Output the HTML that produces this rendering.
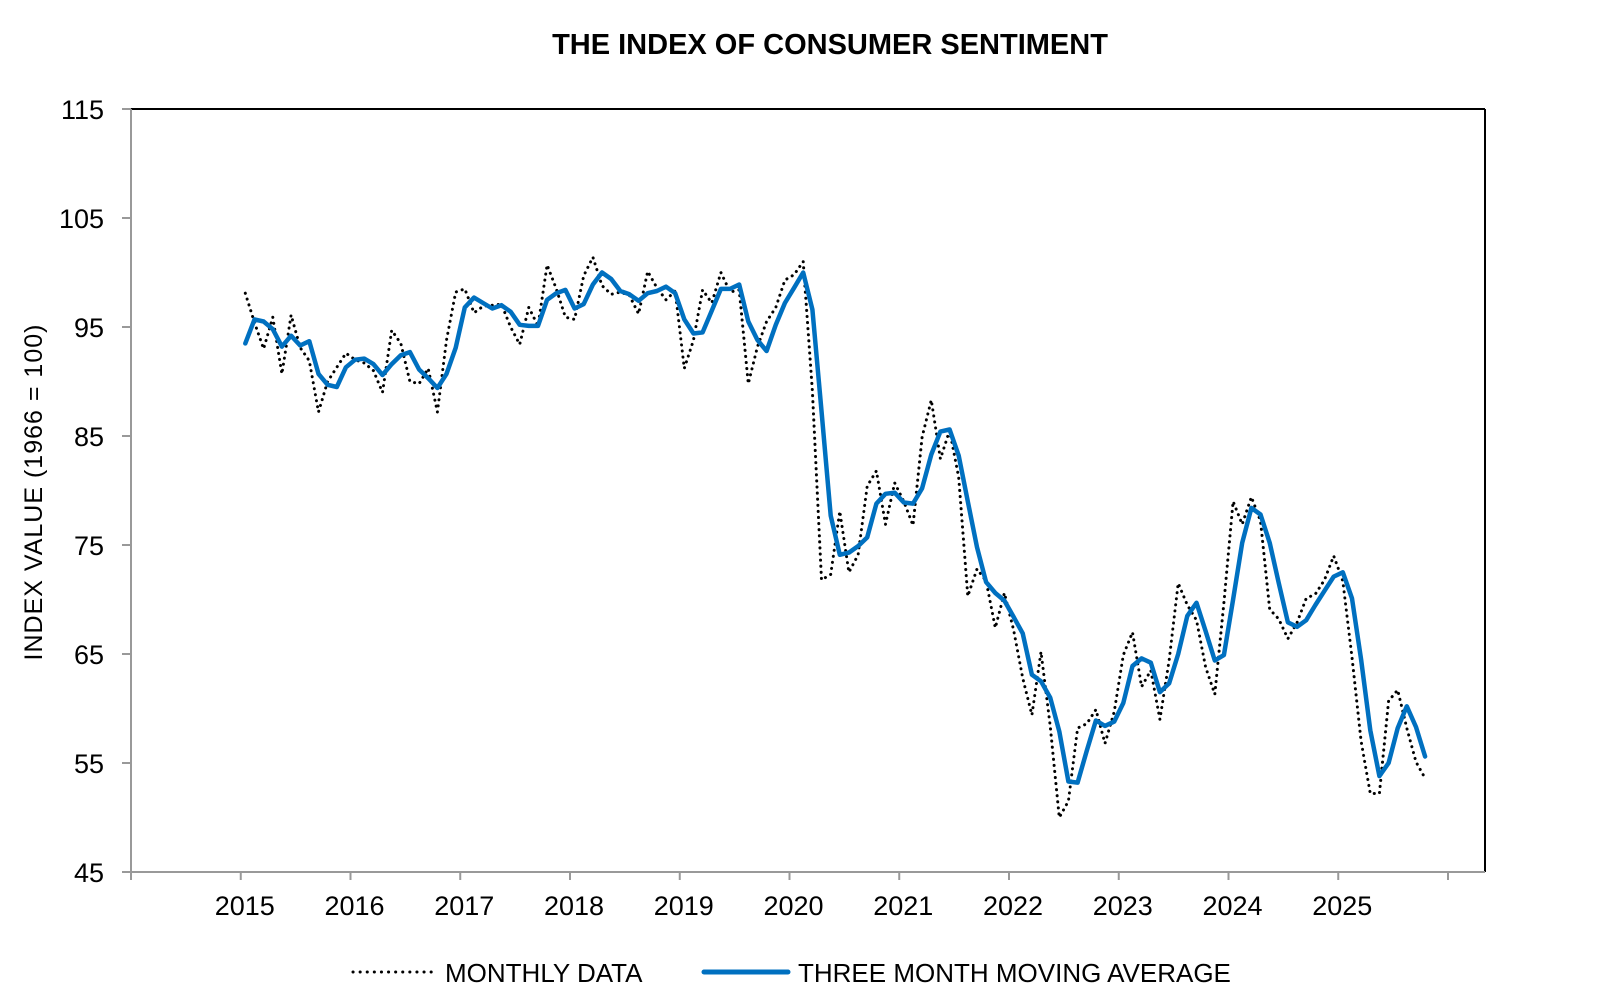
<!DOCTYPE html>
<html><head><meta charset="utf-8"><style>
html,body{margin:0;padding:0;background:#fff;}
svg{display:block;font-family:"Liberation Sans",Arial,sans-serif;}
</style></head><body>
<svg id="chart" width="1600" height="1004" viewBox="0 0 1600 1004" xmlns="http://www.w3.org/2000/svg">
<rect width="1600" height="1004" fill="#fff"/>
<text x="830" y="54" text-anchor="middle" font-size="29" font-weight="bold">THE INDEX OF CONSUMER SENTIMENT</text>
<text transform="translate(42,492) rotate(-90)" text-anchor="middle" font-size="25" letter-spacing="1">INDEX VALUE (1966 = 100)</text>
<g id="axes"></g>
<g id="series"></g>
<g>
<line x1="353" y1="972" x2="437" y2="972" stroke="#000" stroke-width="3" stroke-dasharray="0.1 7" stroke-linecap="round"/>
<text x="445" y="982" font-size="26">MONTHLY DATA</text>
<line x1="704" y1="972" x2="788" y2="972" stroke="#0070c0" stroke-width="5" stroke-linecap="round"/>
<text x="798" y="982" font-size="26">THREE MONTH MOVING AVERAGE</text>
</g>
</svg>
<script>
const years = ["2015","2016","2017","2018","2019","2020","2021","2022","2023","2024","2025"];
const yTicks = [45,55,65,75,85,95,105,115];
const monthly = [98.1,95.4,93.0,95.9,90.7,96.1,93.1,91.9,87.2,90.0,91.3,92.6,
92.0,91.7,91.0,89.0,94.7,93.5,90.0,89.8,91.2,87.2,93.8,98.2,
98.5,96.3,96.9,97.0,97.1,95.0,93.4,96.8,95.1,100.7,98.5,95.9,
95.7,99.7,101.4,98.8,98.0,98.2,97.9,96.2,100.1,98.6,97.5,98.3,
91.2,93.8,98.4,97.2,100.0,98.2,98.4,89.8,93.2,95.5,96.8,99.3,
99.8,101.0,89.1,71.8,72.3,78.1,72.5,74.1,80.4,81.8,76.9,80.7,
79.0,76.8,84.9,88.3,82.9,85.5,81.2,70.3,72.8,71.7,67.4,70.6,
67.2,62.8,59.4,65.2,58.4,50.0,51.5,58.2,58.6,59.9,56.8,59.7,
64.9,67.0,62.0,63.5,59.0,64.4,71.5,69.5,68.1,63.8,61.3,69.7,
79.0,76.9,79.4,77.2,69.1,68.2,66.4,67.9,70.1,70.5,71.8,74.0,
71.7,64.7,57.0,52.2,52.2,60.7,61.7,58.2,55.1,53.6];
const movingAvg = [93.5,95.7,95.5,94.8,93.2,94.2,93.3,93.7,90.7,89.7,89.5,91.3,
92.0,92.1,91.6,90.6,91.6,92.4,92.7,91.1,90.3,89.4,90.7,93.1,
96.8,97.7,97.2,96.7,97.0,96.4,95.2,95.1,95.1,97.5,98.1,98.4,
96.7,97.1,98.9,100.0,99.4,98.3,98.0,97.4,98.1,98.3,98.7,98.1,
95.7,94.4,94.5,96.5,98.5,98.5,98.9,95.5,93.8,92.8,95.2,97.2,
98.6,100.0,96.6,87.3,77.7,74.1,74.3,74.9,75.7,78.8,79.7,79.8,
78.9,78.8,80.2,83.3,85.4,85.6,83.2,79.0,74.8,71.6,70.6,69.9,
68.4,66.9,63.1,62.5,61.0,57.9,53.3,53.2,56.1,58.9,58.4,58.8,
60.5,63.9,64.6,64.2,61.5,62.3,65.0,68.5,69.7,67.1,64.4,64.9,
70.0,75.2,78.4,77.8,75.2,71.5,67.9,67.5,68.1,69.5,70.8,72.1,
72.5,70.1,64.5,58.0,53.8,55.0,58.2,60.2,58.3,55.6];

const NS="http://www.w3.org/2000/svg";
const L=131,R=1485,T=109,B=872;
const X0=131, YW=109.75;
const yMin=45,yMax=115;
function yScale(v){return B-(v-yMin)/(yMax-yMin)*(B-T);}
function xScale(i){return X0+YW+(i+0.5)*YW/12;}
function mk(tag,attrs,parent){const e=document.createElementNS(NS,tag);for(const k in attrs)e.setAttribute(k,attrs[k]);parent.appendChild(e);return e;}
const axes=document.getElementById('axes');
const series=document.getElementById('series');
let e;
e=mk('line',{x1:L,y1:T,x2:R,y2:T,stroke:'#000','stroke-width':2},axes);


e=mk('line',{x1:R,y1:T,x2:R,y2:B,stroke:'#000','stroke-width':2},axes);


e=mk('line',{x1:L,y1:T,x2:L,y2:B,stroke:'#999','stroke-width':2},axes);


e=mk('line',{x1:L,y1:B,x2:R,y2:B,stroke:'#999','stroke-width':2},axes);


yTicks.forEach(v=>{
  const y=yScale(v);
  const t=mk('line',{x1:L-9,y1:y,x2:L,y2:y,stroke:'#999','stroke-width':2},axes);
  
  
  const lb=mk('text',{x:104,y:y+10,'text-anchor':'end','font-size':27},axes);
  lb.textContent=v;
  
  
});
for(let k=0;k<=years.length+1;k++){
  const x=X0+k*YW;
  const t=mk('line',{x1:x,y1:B,x2:x,y2:B+8,stroke:'#999','stroke-width':2},axes);
  
  
}
years.forEach((yr,k)=>{
  const lb=mk('text',{x:X0+(k+1)*YW+4,y:915,'text-anchor':'middle','font-size':27},axes);
  lb.textContent=yr;
  
  
});
const pts1=monthly.map((v,i)=>xScale(i).toFixed(1)+','+yScale(v).toFixed(1)).join(' ');
const p1=mk('polyline',{points:pts1,fill:'none',stroke:'#000','stroke-width':3,'stroke-dasharray':'0.1 6','stroke-linecap':'round','stroke-linejoin':'round'},series);


const pts2=movingAvg.map((v,i)=>xScale(i).toFixed(1)+','+yScale(v).toFixed(1)).join(' ');
const p2=mk('polyline',{points:pts2,fill:'none',stroke:'#0070c0','stroke-width':4.5,'stroke-linejoin':'round','stroke-linecap':'round'},series);


</script>
</body></html>
